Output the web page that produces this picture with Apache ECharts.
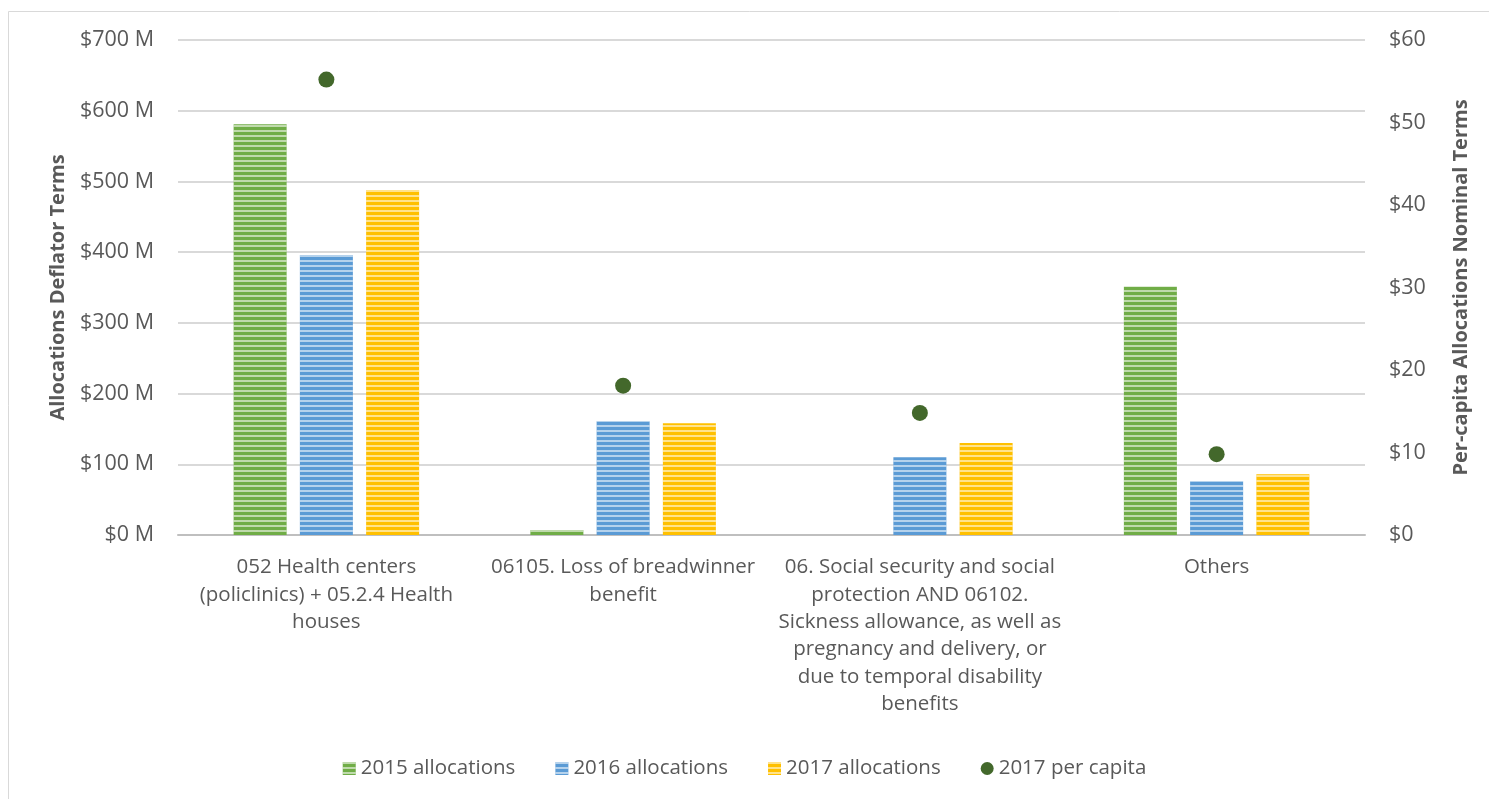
<!DOCTYPE html>
<html>
<head>
<meta charset="utf-8">
<script src="https://cdn.jsdelivr.net/npm/echarts@6/dist/echarts.min.js"></script>
<style>
html,body{margin:0;padding:0;background:#fff;}
#c{width:1489px;height:799px;}
</style>
</head>
<body>
<div id="c"></div>
<script>
const categories = [
  "052 Health centers\n(policlinics) + 05.2.4 Health\nhouses",
  "06105. Loss of breadwinner\nbenefit",
  "06. Social security and social\nprotection AND 06102.\nSickness allowance, as well as\npregnancy and delivery, or\ndue to temporal disability\nbenefits",
  "Others"
];
const alloc2015 = [581, 7, null, 351];
const alloc2016 = [396, 161, 110, 76];
const alloc2017 = [488, 158, 130, 86];
const perCapita2017 = [55.2, 18.1, 14.8, 9.8];
const leftTicks = {min: 0, max: 700, interval: 100};
const rightTicks = {min: 0, max: 60, interval: 10};

const FONT = 'Open Sans';
const TXT = '#595959';

function stripes() {
  return {
    symbol: 'rect',
    symbolSize: 1,
    dashArrayX: [1, 0],
    dashArrayY: [2, 3],
    rotation: 0,
    color: 'rgba(255,255,255,0.55)'
  };
}

const chart = echarts.init(document.getElementById('c'), null, {renderer: 'canvas'});
chart.setOption({
  backgroundColor: '#fff',
  animation: false,
  textStyle: {fontFamily: FONT},
  graphic: [{
    type: 'rect',
    shape: {x: 8.5, y: 11.5, width: 1500, height: 820},
    style: {fill: 'none', stroke: '#d9d9d9', lineWidth: 1},
    silent: true, z: -1
  }],
  grid: {left: 178, right: 124, top: 40, bottom: 264, containLabel: false},
  legend: {
    bottom: 15,
    left: 'center',
    itemWidth: 13,
    itemHeight: 13,
    itemGap: 40,
    textStyle: {fontFamily: FONT, fontSize: 20.5, color: TXT},
    data: [
      {name: '2015 allocations', icon: 'rect'},
      {name: '2016 allocations', icon: 'rect'},
      {name: '2017 allocations', icon: 'rect'},
      {name: '2017 per capita', icon: 'circle'}
    ]
  },
  xAxis: {
    type: 'category',
    data: categories,
    axisLine: {show: true, lineStyle: {color: '#bfbfbf', width: 2}},
    axisTick: {show: false},
    axisLabel: {
      interval: 0,
      fontFamily: FONT,
      fontSize: 20.5,
      color: TXT,
      lineHeight: 27.3,
      margin: 19,
      align: 'center'
    }
  },
  yAxis: [{
    type: 'value',
    min: leftTicks.min, max: leftTicks.max, interval: leftTicks.interval,
    name: 'Allocations Deflator Terms',
    nameLocation: 'middle',
    nameGap: 110,
    nameTextStyle: {fontFamily: FONT, fontSize: 20, fontWeight: 'bold', color: TXT},
    axisLabel: {formatter: v => '$' + v + ' M', fontFamily: FONT, fontSize: 21.5, color: TXT, margin: 24},
    axisLine: {show: false},
    axisTick: {show: false},
    splitLine: {lineStyle: {color: '#d9d9d9', width: 2}}
  }, {
    type: 'value',
    min: rightTicks.min, max: rightTicks.max, interval: rightTicks.interval,
    name: 'Per-capita Allocations Nominal Terms',
    nameLocation: 'middle',
    nameGap: 86,
    nameRotate: 90,
    nameTextStyle: {fontFamily: FONT, fontSize: 20, fontWeight: 'bold', color: TXT},
    axisLabel: {formatter: v => '$' + v, fontFamily: FONT, fontSize: 21.5, color: TXT, margin: 24},
    axisLine: {show: false},
    axisTick: {show: false},
    splitLine: {show: false}
  }],
  series: [{
    name: '2015 allocations', type: 'bar', data: alloc2015,
    barWidth: 53, barGap: '25%',
    itemStyle: {color: '#70AD47', decal: stripes()}
  }, {
    name: '2016 allocations', type: 'bar', data: alloc2016,
    barWidth: 53, barGap: '25%',
    itemStyle: {color: '#5B9BD5', decal: stripes()}
  }, {
    name: '2017 allocations', type: 'bar', data: alloc2017,
    barWidth: 53, barGap: '25%',
    itemStyle: {color: '#FFC000', decal: stripes()}
  }, {
    name: '2017 per capita', type: 'scatter', yAxisIndex: 1, data: perCapita2017,
    symbol: 'circle', symbolSize: 16,
    itemStyle: {color: '#43682B', opacity: 1}, z: 5
  }]
});
</script>
</body>
</html>
